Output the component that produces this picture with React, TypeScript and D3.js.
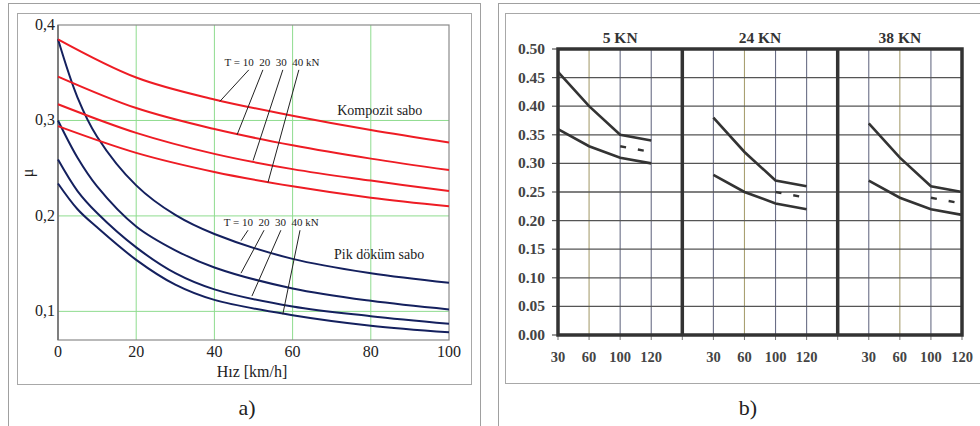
import React from "react";
import * as d3 from "d3";

// ---------- Panel a) : friction coefficient vs speed ----------
const speedsRed = [0, 20, 40, 60, 80, 100];
const kompozitT10 = [0.385, 0.345, 0.322, 0.305, 0.29, 0.277];
const kompozitT20 = [0.346, 0.313, 0.291, 0.274, 0.26, 0.248];
const kompozitT30 = [0.317, 0.287, 0.265, 0.249, 0.237, 0.226];
const kompozitT40 = [0.294, 0.266, 0.246, 0.231, 0.219, 0.21];

const speedsBlue = [0, 5, 10, 20, 30, 40, 60, 80, 100];
const pikT10 = [0.385, 0.324, 0.283, 0.232, 0.201, 0.181, 0.155, 0.14, 0.13];
const pikT20 = [0.3, 0.261, 0.231, 0.189, 0.164, 0.146, 0.124, 0.111, 0.102];
const pikT30 = [0.259, 0.226, 0.203, 0.167, 0.14, 0.123, 0.105, 0.095, 0.087];
const pikT40 = [0.234, 0.207, 0.188, 0.154, 0.128, 0.112, 0.096, 0.085, 0.078];

const xTicksA = [0, 20, 40, 60, 80, 100];
const yTicksA = [0.1, 0.2, 0.3, 0.4];
const yTickLabelsA = ["0,1", "0,2", "0,3", "0,4"];

// ---------- Panel b) : three load cases ----------
const panelTitles = ["5 KN", "24 KN", "38 KN"];
const speedLabels = ["30", "60", "100", "120"];
const upper5 = [0.46, 0.4, 0.35, 0.34];
const lower5 = [0.36, 0.33, 0.31, 0.3];
const dashed5 = [0.33, 0.32];
const upper24 = [0.38, 0.32, 0.27, 0.26];
const lower24 = [0.28, 0.25, 0.23, 0.22];
const dashed24 = [0.25, 0.24];
const upper38 = [0.37, 0.31, 0.26, 0.25];
const lower38 = [0.27, 0.24, 0.22, 0.21];
const dashed38 = [0.24, 0.23];
const yTicksB = [0, 0.05, 0.1, 0.15, 0.2, 0.25, 0.3, 0.35, 0.4, 0.45, 0.5];

const serif = "'Liberation Serif', serif";
const tf: React.CSSProperties = { fontFamily: serif };

function ChartA() {
  const x = d3.scaleLinear().domain([0, 100]).range([58, 449]);
  const y = d3.scaleLinear().domain([0.07, 0.4]).range([340, 25]);
  const line = (xs: number[], ys: number[]) =>
    d3
      .line<number>()
      .x((_, i) => x(xs[i]))
      .y((v) => y(v))
      .curve(d3.curveCatmullRom.alpha(0.5))(ys) || "";

  const red = [kompozitT10, kompozitT20, kompozitT30, kompozitT40];
  const blue = [pikT10, pikT20, pikT30, pikT40];

  // leader lines in data units: [from speed, from mu, to speed, to mu]
  const redLeaders = [
    [48.8, 0.353, 41.4, 0.32],
    [52.4, 0.353, 45.8, 0.285],
    [57.5, 0.353, 49.9, 0.258],
    [61.6, 0.353, 53.7, 0.235],
  ];
  const blueLeaders = [
    [48.6, 0.185, 46.8, 0.174],
    [52.7, 0.185, 46.8, 0.14],
    [57.0, 0.185, 49.6, 0.116],
    [61.9, 0.185, 57.5, 0.097],
  ];

  return (
    <g>
      <rect x={8.5} y={3.5} width={472} height={440} fill="none" stroke="#a0a0a0" />
      <rect x={17.5} y={13.5} width={454} height={371} fill="none" stroke="#a8a8a8" />
      {/* grid */}
      {xTicksA.slice(1, -1).map((t) => (
        <line key={"gx" + t} x1={x(t)} x2={x(t)} y1={y(0.4)} y2={y(0.07)} stroke="#8fdc8f" strokeWidth={1} />
      ))}
      {yTicksA.slice(0, -1).map((t) => (
        <line key={"gy" + t} x1={x(0)} x2={x(100)} y1={y(t)} y2={y(t)} stroke="#8fdc8f" strokeWidth={1} />
      ))}
      {/* frame */}
      <rect x={x(0)} y={y(0.4)} width={x(100) - x(0)} height={y(0.07) - y(0.4)} fill="none" stroke="#8a8a8a" strokeWidth={1.2} />
      <line x1={x(0)} x2={x(0)} y1={y(0.4)} y2={y(0.07)} stroke="#707070" strokeWidth={1.6} />
      {/* curves */}
      {blue.map((s, i) => (
        <path key={"b" + i} d={line(speedsBlue, s)} fill="none" stroke="#14205e" strokeWidth={2} />
      ))}
      {red.map((s, i) => (
        <path key={"r" + i} d={line(speedsRed, s)} fill="none" stroke="#ee1c24" strokeWidth={2} />
      ))}
      {/* ticks */}
      {yTicksA.map((t, i) => (
        <text key={"ty" + t} x={x(0) - 3} y={y(t) + 5} textAnchor="end" fontSize={16} fill="#222" style={tf}>
          {yTickLabelsA[i]}
        </text>
      ))}
      {xTicksA.map((t) => (
        <text key={"tx" + t} x={x(t)} y={357} textAnchor="middle" fontSize={16} fill="#222" style={tf}>
          {t}
        </text>
      ))}
      <text x={252} y={377} textAnchor="middle" fontSize={16} fill="#222" style={tf}>
        Hız [km/h]
      </text>
      <text transform={`translate(33,${y(0.245)}) rotate(-90)`} textAnchor="middle" fontSize={16} fill="#222" style={tf}>
        μ
      </text>
      {/* annotations */}
      <text x={x(42.6)} y={y(0.357)} fontSize={11} fill="#222" style={tf} xmlSpace="preserve">
        T = 10  20  30  40 kN
      </text>
      {redLeaders.map((l, i) => (
        <line key={"rl" + i} x1={x(l[0])} y1={y(l[1])} x2={x(l[2])} y2={y(l[3])} stroke="#222" strokeWidth={1} />
      ))}
      <text x={x(71.4)} y={y(0.3056)} fontSize={14} fill="#222" style={tf}>
        Kompozit sabo
      </text>
      <text x={x(42.4)} y={y(0.189)} fontSize={11} fill="#222" style={tf} xmlSpace="preserve">
        T = 10  20  30  40 kN
      </text>
      {blueLeaders.map((l, i) => (
        <line key={"bl" + i} x1={x(l[0])} y1={y(l[1])} x2={x(l[2])} y2={y(l[3])} stroke="#222" strokeWidth={1} />
      ))}
      <text x={x(70.6)} y={y(0.1545)} fontSize={14} fill="#222" style={tf}>
        Pik döküm sabo
      </text>
      <text x={247} y={415} textAnchor="middle" fontSize={22} fill="#222" style={tf}>
        a)
      </text>
    </g>
  );
}

function ChartB() {
  // 14 evenly spaced slots: 4 speeds + 1 spacer per load case (last has no spacer)
  const x = d3.scaleLinear().domain([0, 13]).range([558, 962]);
  const y = d3.scaleLinear().domain([0, 0.5]).range([335, 49]);
  const starts = [0, 5, 10];
  const uppers = [upper5, upper24, upper38];
  const lowers = [lower5, lower24, lower38];
  const dashes = [dashed5, dashed24, dashed38];
  const bounds = [
    [0, 4],
    [4, 9],
    [9, 13],
  ];
  const line = (start: number, vals: number[]) =>
    d3
      .line<number>()
      .x((_, i) => x(start + i))
      .y((v) => y(v))(vals) || "";
  const ink = "#333";

  return (
    <g>
      <rect x={498.5} y={3.5} width={520} height={440} fill="none" stroke="#a0a0a0" />
      <rect x={505.5} y={13.5} width={500} height={370} fill="none" stroke="#a8a8a8" />
      {/* vertical grid */}
      {d3.range(14).map((i) => {
        const isSixty = i % 5 === 1;
        return (
          <line key={"vx" + i} x1={x(i)} x2={x(i)} y1={y(0.5)} y2={y(0)} stroke={isSixty ? "#a9a072" : "#6a6e86"} strokeWidth={1.1} />
        );
      })}
      {/* horizontal grid */}
      {yTicksB.map((t) => (
        <line key={"hy" + t} x1={x(0)} x2={x(13)} y1={y(t)} y2={y(t)} stroke="#555" strokeWidth={1.3} />
      ))}
      {/* tick marks */}
      {yTicksB.map((t) => (
        <line key={"tky" + t} x1={x(0) - 6} x2={x(0)} y1={y(t)} y2={y(t)} stroke="#555" strokeWidth={1.2} />
      ))}
      {d3.range(14).map((i) => (
        <line key={"tkx" + i} x1={x(i)} x2={x(i)} y1={y(0)} y2={y(0) + 5} stroke="#777" strokeWidth={1} />
      ))}
      {/* thick frame and panel dividers */}
      <rect x={x(0)} y={y(0.5)} width={x(13) - x(0)} height={y(0) - y(0.5)} fill="none" stroke={ink} strokeWidth={3.5} />
      {[4, 9].map((i) => (
        <line key={"dv" + i} x1={x(i)} x2={x(i)} y1={y(0.5)} y2={y(0)} stroke={ink} strokeWidth={3.5} />
      ))}
      {/* curves */}
      {starts.map((s, p) => (
        <g key={"p" + p}>
          <path d={line(s, uppers[p])} fill="none" stroke={ink} strokeWidth={2.6} />
          <path d={line(s, lowers[p])} fill="none" stroke={ink} strokeWidth={2.6} />
          <path d={line(s + 2, dashes[p])} fill="none" stroke={ink} strokeWidth={2.4} strokeDasharray="6 12" />
        </g>
      ))}
      {/* labels */}
      {yTicksB.map((t) => (
        <text key={"ly" + t} x={545} y={y(t) + 5} textAnchor="end" fontSize={15.5} fontWeight="bold" fill="#444" style={tf}>
          {t.toFixed(2)}
        </text>
      ))}
      {starts.map((s, p) =>
        speedLabels.map((lab, i) => (
          <text key={"lx" + p + i} x={x(s + i)} y={362} textAnchor="middle" fontSize={14.5} fontWeight="bold" fill="#444" style={tf}>
            {lab}
          </text>
        ))
      )}
      {panelTitles.map((t, p) => (
        <text
          key={"pt" + p}
          x={(x(bounds[p][0]) + x(bounds[p][1])) / 2}
          y={43}
          textAnchor="middle"
          fontSize={15.5}
          fontWeight="bold"
          fill="#333"
          style={tf}
        >
          {t}
        </text>
      ))}
      <text x={748} y={415} textAnchor="middle" fontSize={22} fill="#222" style={tf}>
        b)
      </text>
    </g>
  );
}

export default function App() {
  return (
    <svg
      width={980}
      height={426}
      viewBox="0 0 980 426"
      style={{ position: "absolute", left: 0, top: 0, background: "#fff" }}
    >
      <rect width={980} height={426} fill="#fff" />
      <ChartA />
      <ChartB />
    </svg>
  );
}
